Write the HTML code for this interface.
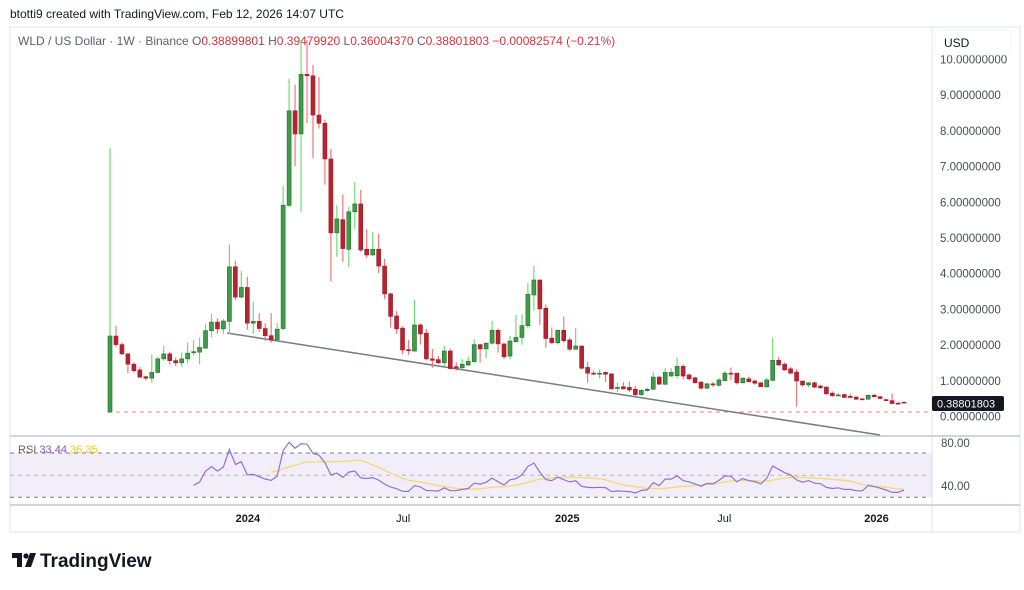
<!DOCTYPE html>
<html><head><meta charset="utf-8"><style>
html,body{margin:0;padding:0;background:#fff;width:1024px;height:590px;overflow:hidden;font-family:"Liberation Sans",sans-serif}
svg text{font-family:"Liberation Sans",sans-serif}
</style></head><body>
<svg id="c" width="1024" height="590" xmlns="http://www.w3.org/2000/svg">
<text x="10" y="18" font-size="12" fill="#131722">btotti9 created with TradingView.com, Feb 12, 2026 14:07 UTC</text>
<rect x="10" y="27" width="1010" height="505" fill="none" stroke="#e0e3eb"/>
<line x1="932" y1="27" x2="932" y2="532" stroke="#e0e3eb"/>
<line x1="10" y1="436" x2="1020" y2="436" stroke="#d1d4dc" stroke-width="2"/>
<line x1="10" y1="505" x2="1020" y2="505" stroke="#d1d4dc" stroke-width="2"/>
<text x="18" y="45" font-size="12"><tspan fill="#5d606b">WLD / US Dollar · 1W · Binance  O</tspan><tspan fill="#d1343f">0.38899801</tspan><tspan fill="#5d606b">  H</tspan><tspan fill="#d1343f">0.39479920</tspan><tspan fill="#5d606b">  L</tspan><tspan fill="#d1343f">0.36004370</tspan><tspan fill="#5d606b">  C</tspan><tspan fill="#d1343f">0.38801803  −0.00082574 (−0.21%)</tspan></text>
<g id="grid"></g>
<rect x="935" y="30" width="76" height="25" rx="4" fill="#fff" stroke="#f0f3fa"/>
<text x="944" y="47" font-size="12" fill="#131722">USD</text>
<line x1="108" y1="412" x2="930" y2="412" stroke="#f77c80" stroke-dasharray="4,4"/>
<line x1="227" y1="333" x2="880" y2="435" stroke="#787b86" stroke-width="1.5"/>
<g id="candles"></g>
<rect x="10" y="453" width="922" height="44" fill="#7e57c2" fill-opacity="0.1"/>
<line x1="10" y1="453" x2="930" y2="453" stroke="#787b86" stroke-dasharray="4,4"/>
<line x1="10" y1="475.3" x2="930" y2="475.3" stroke="#b2b5be" stroke-dasharray="4,4"/>
<line x1="10" y1="497.3" x2="930" y2="497.3" stroke="#787b86" stroke-dasharray="4,4"/>
<g id="rsi"></g>
<text x="18" y="453" font-size="11"><tspan fill="#5d606b">RSI </tspan><tspan fill="#7e57c2">33.44</tspan><tspan fill="#f5c518"> 36.35</tspan></text>
<text x="941" y="447" font-size="11.5" fill="#4a4d57">80.00</text>
<text x="941" y="490" font-size="11.5" fill="#4a4d57">40.00</text>
<g id="time"></g>
<rect x="932" y="396" width="72" height="15" rx="2" fill="#131722"/>
<text x="937" y="407.5" font-size="11" fill="#fff">0.38801803</text>
<g>
<path d="M12 553h10v14h-5v-9h-5z" fill="#131722"/><circle cx="26" cy="556" r="2.6" fill="#131722"/><path d="M30 553h6l-5 14h-6z" fill="#131722"/>
<text x="40" y="567" font-size="19" font-weight="bold" fill="#131722">TradingView</text>
</g>
</svg>
<script>
const opens=[0.11,2.24,2.0,1.74,1.45,1.29,1.1,1.06,1.22,1.6,1.74,1.55,1.49,1.6,1.78,1.79,1.9,2.39,2.63,2.44,2.65,4.18,3.33,3.6,2.6,2.65,2.45,2.25,2.13,2.45,5.9,8.55,7.9,9.57,9.53,8.43,8.2,7.2,5.13,5.5,4.67,5.72,5.94,4.67,4.51,4.67,4.2,3.42,2.8,2.46,1.86,1.82,2.55,2.32,1.6,1.58,1.49,1.82,1.38,1.35,1.43,1.52,2.0,1.88,2.04,2.4,2.02,1.68,2.08,2.2,2.53,3.39,3.81,3.02,2.18,2.05,2.4,2.13,1.87,1.96,1.36,1.2,1.18,1.22,1.18,0.79,0.82,0.8,0.75,0.6,0.71,0.75,1.09,0.89,1.12,1.13,1.39,1.15,1.07,0.95,0.78,0.9,0.86,0.99,1.2,1.2,0.93,1.04,0.98,0.93,0.82,1.0,1.56,1.45,1.32,1.23,0.98,0.87,0.93,0.84,0.81,0.64,0.57,0.6,0.55,0.53,0.48,0.47,0.58,0.54,0.46,0.43,0.36,0.389];
const closes=[2.24,2.0,1.74,1.45,1.27,1.09,1.06,1.22,1.6,1.74,1.55,1.49,1.6,1.76,1.8,1.92,2.39,2.63,2.44,2.66,4.18,3.33,3.6,2.6,2.65,2.45,2.25,2.13,2.43,5.9,8.55,7.9,9.57,9.53,8.43,8.2,7.2,5.13,5.52,4.69,5.72,5.94,4.65,4.51,4.67,4.2,3.42,2.79,2.44,1.85,1.83,2.55,2.3,1.6,1.56,1.49,1.82,1.33,1.34,1.45,1.53,2.0,1.88,2.04,2.4,2.02,1.66,2.1,2.2,2.53,3.41,3.81,3.0,2.17,2.05,2.4,2.11,1.87,1.96,1.34,1.2,1.18,1.2,1.17,0.76,0.8,0.76,0.73,0.6,0.72,0.75,1.09,0.89,1.22,1.22,1.39,1.12,1.04,0.93,0.78,0.9,0.87,1.01,1.2,1.18,0.93,1.06,0.96,0.92,0.82,1.01,1.56,1.43,1.29,1.2,0.98,0.87,0.93,0.81,0.79,0.62,0.57,0.59,0.52,0.52,0.47,0.46,0.58,0.54,0.49,0.43,0.35,0.35,0.388];
const highs=[7.5,2.53,2.06,1.76,1.5,1.37,1.12,1.72,1.66,1.97,1.8,1.64,1.78,2.06,2.12,2.2,2.59,2.86,2.74,2.72,4.8,4.35,4.06,3.9,3.2,2.88,2.6,2.88,2.6,6.45,9.45,9.28,11.0,11.5,9.83,9.5,8.3,7.48,5.9,6.2,5.86,6.55,6.33,5.24,5.16,5.1,4.4,3.45,2.95,2.52,2.13,3.25,2.6,2.43,1.88,1.68,1.96,1.88,1.5,1.59,1.66,2.15,2.02,2.06,2.66,2.45,2.02,2.24,2.83,2.85,3.72,4.2,3.81,3.13,2.48,2.42,2.78,2.2,2.46,1.97,1.52,1.28,1.3,1.25,1.18,0.93,0.95,0.96,0.84,0.74,0.8,1.23,1.12,1.34,1.34,1.64,1.45,1.19,1.1,0.98,0.93,0.95,1.06,1.26,1.36,1.2,1.08,1.1,1.02,0.95,1.06,2.18,1.66,1.5,1.38,1.32,0.98,0.95,0.96,0.87,0.83,0.69,0.64,0.63,0.62,0.56,0.5,0.59,0.62,0.56,0.47,0.63,0.4,0.395];
const lows=[0.1,1.94,1.71,1.2,1.21,1.06,1.0,0.93,1.2,1.55,1.44,1.4,1.38,1.47,1.7,1.45,1.9,2.2,2.3,2.3,2.3,3.25,3.3,2.42,2.3,2.35,2.1,2.05,2.1,2.4,5.85,7.0,5.72,8.2,7.22,8.05,6.48,3.77,4.46,4.32,4.17,5.23,4.6,4.42,4.5,4.0,3.27,2.48,2.3,1.73,1.71,1.8,2.0,1.56,1.35,1.45,1.4,1.3,1.27,1.32,1.4,1.5,1.5,1.62,2.0,1.78,1.6,1.6,2.07,1.99,2.45,2.95,2.55,1.91,2.02,2.0,2.05,1.83,1.86,1.3,0.93,1.15,1.05,0.95,0.74,0.67,0.74,0.67,0.56,0.56,0.68,0.73,0.88,0.87,1.1,1.05,1.03,1.0,0.91,0.74,0.76,0.82,0.82,0.97,1.0,0.88,0.91,0.94,0.88,0.82,0.78,0.98,1.4,1.27,1.18,0.26,0.82,0.8,0.78,0.76,0.6,0.54,0.55,0.51,0.5,0.45,0.45,0.46,0.52,0.47,0.42,0.33,0.32,0.36];
const priceTicks=["10.00000000","9.00000000","8.00000000","7.00000000","6.00000000","5.00000000","4.00000000","3.00000000","2.00000000","1.00000000","0.00000000"];
const priceTickValues=[10,9,8,7,6,5,4,3,2,1,0];
const timeLabels=["2024","Jul","2025","Jul","2026"];
const timeLabelIndex=[23.1,49.1,76.6,102.9,128.4];
const NS="http://www.w3.org/2000/svg";
const X=i=>110+5.97*i;
const Y=v=>416-v*35.7;
const RY=v=>497.3-(v-30)*1.1;
function mk(tag,attrs,parent){const e=document.createElementNS(NS,tag);for(const k in attrs)e.setAttribute(k,attrs[k]);parent.appendChild(e);return e;}
const grid=document.getElementById('grid');
priceTickValues.forEach((v,i)=>{
  const t=mk('text',{x:940,y:Y(v)+4.5,'font-size':11.5,fill:'#4a4d57'},grid);
  
  
  t.textContent=priceTicks[i];
});
const time=document.getElementById('time');
timeLabels.forEach((s,i)=>{
  const t=mk('text',{x:X(timeLabelIndex[i]),y:522,'font-size':11,fill:'#131722','text-anchor':'middle','font-weight':(s.length===4?'bold':'normal')},time);
  
  
  t.textContent=s;
});
const cg=document.getElementById('candles');
for(let i=0;i<opens.length;i++){
  const up=closes[i]>=opens[i];
  const x=X(i);
  const g=mk('g',{},cg);
  
  
  const top=Math.max(Y(highs[i]),40);
  mk('line',{x1:x,x2:x,y1:top,y2:Y(lows[i]),stroke:up?'#6fdc73':'#f0777f','stroke-width':1.2},g);
  const y1=Y(Math.max(opens[i],closes[i])),y2=Y(Math.min(opens[i],closes[i]));
  mk('rect',{x:x-2,y:y1,width:4,height:Math.max(1,y2-y1),fill:up?'#3f9d4a':'#b7232f',stroke:up?'#1f6b2b':'#a01c27','stroke-width':0.6},g);
}
const N=14;const rsi=[];let ag=0,al=0;
for(let i=1;i<closes.length;i++){
  const d=closes[i]-closes[i-1];const gn=Math.max(d,0),ls=Math.max(-d,0);
  if(i<=N){ag+=gn/N;al+=ls/N;if(i===N)rsi[i]=100-100/(1+ag/(al||1e-9));}
  else{ag=(ag*(N-1)+gn)/N;al=(al*(N-1)+ls)/N;rsi[i]=100-100/(1+ag/(al||1e-9));}
}
const ma=[];
for(let i=0;i<closes.length;i++){let s=0,c=0;for(let j=i-N+1;j<=i;j++){if(rsi[j]!==undefined){s+=rsi[j];c++;}}if(c===N)ma[i]=s/N;}
const rg=document.getElementById('rsi');
let p1='',p2='';
rsi.forEach((v,i)=>{if(v!==undefined)p1+=(p1?'L':'M')+X(i).toFixed(1)+' '+RY(v).toFixed(1);});
ma.forEach((v,i)=>{if(v!==undefined)p2+=(p2?'L':'M')+X(i).toFixed(1)+' '+RY(v).toFixed(1);});
const l2=mk('path',{d:p2,fill:'none',stroke:'#f7d774','stroke-width':1.3},rg);


const l1=mk('path',{d:p1,fill:'none',stroke:'#8f72d0','stroke-width':1.2},rg);


</script>
</body></html>
